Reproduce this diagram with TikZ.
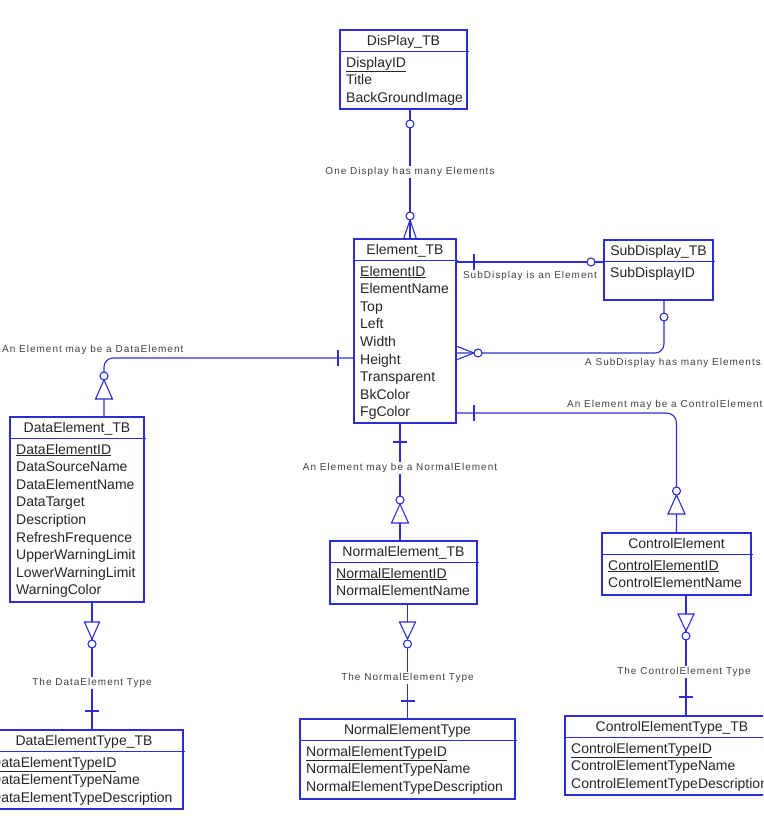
\documentclass[tikz,border=0pt]{standalone}
\usepackage{fontspec}
\setmainfont{Liberation Sans}
\newfontfamily\lblfont[LetterSpace=10]{Liberation Sans}
\usepackage{xcolor}
\usepackage{tikz}
\usetikzlibrary{calc}

\definecolor{erblue}{RGB}{45,45,215}

% one table: name, top left, width, height, title, rows
\newcommand{\erbox}[6]{%
	\node[tbl, minimum width=#3, minimum height=#4, anchor=north west] (#1) at (#2) {};
	\node[hdr, anchor=base] (#1-title) at ($(#1.north)+(0,15.5)$) {#5};
	\draw[erline] ($(#1.north west)+(0,21.5)$) -- ($(#1.north east)+(2,21.5)$);
	\foreach \r [count=\i] in {#6}
		\node[attr, anchor=base west] (#1-\i) at ($(#1.north west)+(6,19.4+17.6*\i)$) {\r};
}

\begin{document}
\begin{tikzpicture}[x=1pt, y=-1pt,
	erline/.style={draw=erblue, line width=1.1pt},
	tbl/.style={erline, fill=white, inner sep=0pt, outer sep=0pt},
	hdr/.style={font=\fontsize{14}{17}\selectfont, text=black!85, inner sep=0pt},
	attr/.style={font=\fontsize{14}{17}\selectfont, text=black!85, inner sep=0pt},
	lbl/.style={font=\lblfont\fontsize{10}{12}\selectfont, text=black!75, fill=white, inner sep=1pt}]

\useasboundingbox (0,0) rectangle (763,827);
\clip (0,0) rectangle (763,827);

\erbox{disp}{340,30}{127}{79}{DisPlay\_TB}{\underline{DisplayID}, Title, BackGroundImage}
\erbox{elem}{354,239}{102}{184}{Element\_TB}{\underline{ElementID}, ElementName, Top, Left, Width, Height, Transparent, BkColor, FgColor}
\erbox{sub}{604,240}{109}{60}{SubDisplay\_TB}{SubDisplayID}
\erbox{data}{10,417}{134}{185}{DataElement\_TB}{\underline{DataElementID}, DataSourceName, DataElementName, DataTarget, Description, RefreshFrequence, UpperWarningLimit, LowerWarningLimit, WarningColor}
\erbox{norm}{330,541}{147}{63}{NormalElement\_TB}{\underline{NormalElementID}, NormalElementName}
\erbox{ctrl}{602,533}{149}{62}{ControlElement}{\underline{ControlElementID}, ControlElementName}
\erbox{dtype}{-15,730}{198}{79}{DataElementType\_TB}{\underline{DataElementTypeID}, DataElementTypeName, DataElementTypeDescription}
\erbox{ntype}{300,719}{215}{80}{NormalElementType}{\underline{NormalElementTypeID}, NormalElementTypeName, NormalElementTypeDescription}
\erbox{ctype}{565,716}{214}{79}{ControlElementType\_TB}{\underline{ControlElementTypeID}, ControlElementTypeName, ControlElementTypeDescription}

% display - element
\coordinate (disp-s) at ($(disp.south west)+(70,0)$);
\coordinate (elem-n) at (disp-s |- elem.north);
\draw[erline] (disp-s) -- (elem-n);
\node[lbl] (l-disp) at ($(disp-s)+(0,63)$) {One Display has many Elements};
\draw[erline, fill=white] ($(disp-s)+(0,15)$) circle (4pt);
\draw[erline] ($(elem-n)+(-6.5,0)$) -- ($(elem-n)+(0,-19)$) -- ($(elem-n)+(6.5,0)$);
\draw[erline, fill=white] ($(elem-n)+(0,-23)$) circle (4pt);

% element - subdisplay
\coordinate (elem-e1) at ($(elem.north east)+(0,23)$);
\coordinate (sub-w) at (elem-e1 -| sub.west);
\draw[erline] (elem-e1) -- (sub-w);
\draw[erline] ($(elem-e1)+(18,-8)$) -- ++(0,16);
\draw[erline, fill=white] ($(sub-w)+(-13,0)$) circle (4pt);
\node[lbl, fill=none] (l-sub1) at ($(elem-e1)+(74,14)$) {SubDisplay is an Element};

% subdisplay - element
\coordinate (sub-s) at ($(sub.south west)+(60,0)$);
\coordinate (elem-e2) at ($(elem.north east)+(0,114)$);
\draw[erline, rounded corners=9pt] (sub-s) |- (elem-e2);
\draw[erline, fill=white] ($(sub-s)+(0,17)$) circle (4pt);
\draw[erline] ($(elem-e2)+(0,-7)$) -- ($(elem-e2)+(18,0)$) -- ($(elem-e2)+(0,7)$);
\draw[erline, fill=white] ($(elem-e2)+(22,0)$) circle (4pt);
\node[lbl, fill=none] (l-sub2) at ($(elem-e2)+(217,10)$) {A SubDisplay has many Elements};

% element - dataelement
\coordinate (elem-w) at ($(elem.north west)+(0,119)$);
\coordinate (data-n) at ($(data.north west)+(94,0)$);
\draw[erline, rounded corners=9pt] (elem-w) -| (data-n);
\draw[erline] ($(elem-w)+(-16,-8)$) -- ++(0,16);
\draw[erline, fill=white] ($(data-n)+(0,-37)$) -- ++(-8.5,19) -- ++(17,0) -- cycle;
\draw[erline, fill=white] ($(data-n)+(0,-41)$) circle (4pt);
\node[lbl, fill=none, anchor=west] (l-data) at ($(data-n)+(-103,-67)$) {An Element may be a DataElement};

% element - normalelement
\coordinate (elem-s) at ($(elem.south west)+(46,0)$);
\draw[erline] (elem-s) -- (elem-s |- norm.north);
\draw[erline] ($(elem-s)+(-7,19)$) -- ++(14,0);
\node[lbl] (l-norm) at ($(elem-s)+(0,45)$) {An Element may be a NormalElement};
\draw[erline, fill=white] ($(elem-s)+(0,81)$) -- ++(-8.5,19) -- ++(17,0) -- cycle;
\draw[erline, fill=white] ($(elem-s)+(0,77)$) circle (4pt);

% element - controlelement
\coordinate (elem-e3) at ($(elem.north east)+(0,174)$);
\draw[erline, rounded corners=10pt] (elem-e3) -| (ctrl.north);
\draw[erline] ($(elem-e3)+(18,-8)$) -- ++(0,16);
\draw[erline, fill=white] ($(ctrl.north)+(0,-38)$) -- ++(-8.5,19) -- ++(17,0) -- cycle;
\draw[erline, fill=white] ($(ctrl.north)+(0,-42)$) circle (4pt);
\node[lbl, fill=none, anchor=west] (l-ctrl) at ($(elem-e3)+(110,-8)$) {An Element may be a ControlElement};

% dataelement - type
\coordinate (data-s) at ($(data.south west)+(82,0)$);
\draw[erline] (data-s) -- (data-s |- dtype.north);
\draw[erline, fill=white] ($(data-s)+(0,37)$) -- ++(-7.5,-17) -- ++(15,0) -- cycle;
\draw[erline, fill=white] ($(data-s)+(0,42)$) circle (4pt);
\node[lbl] (l-dtype) at ($(data-s)+(0,81)$) {The DataElement Type};
\draw[erline] ($(data-s |- dtype.north)+(-7,-19)$) -- ++(14,0);

% normalelement - type
\coordinate (norm-s) at (ntype.north |- norm.south);
\draw[erline] (norm-s) -- (ntype.north);
\draw[erline, fill=white] ($(norm-s)+(0,35)$) -- ++(-8,-17) -- ++(16,0) -- cycle;
\draw[erline, fill=white] ($(norm-s)+(0,40)$) circle (4pt);
\node[lbl] (l-ntype) at ($(norm-s)+(0,74)$) {The NormalElement Type};
\draw[erline] ($(ntype.north)+(-7,-18)$) -- ++(14,0);

% controlelement - type
\coordinate (ctrl-s) at ($(ctrl.south west)+(84,0)$);
\draw[erline] (ctrl-s) -- (ctrl-s |- ctype.north);
\draw[erline, fill=white] ($(ctrl-s)+(0,36)$) -- ++(-8,-17) -- ++(16,0) -- cycle;
\draw[erline, fill=white] ($(ctrl-s)+(0,41)$) circle (4pt);
\node[lbl] (l-ctype) at ($(ctrl-s)+(-2,77)$) {The ControlElement Type};
\draw[erline] ($(ctrl-s |- ctype.north)+(-7,-19)$) -- ++(14,0);

\end{tikzpicture}
\end{document}
